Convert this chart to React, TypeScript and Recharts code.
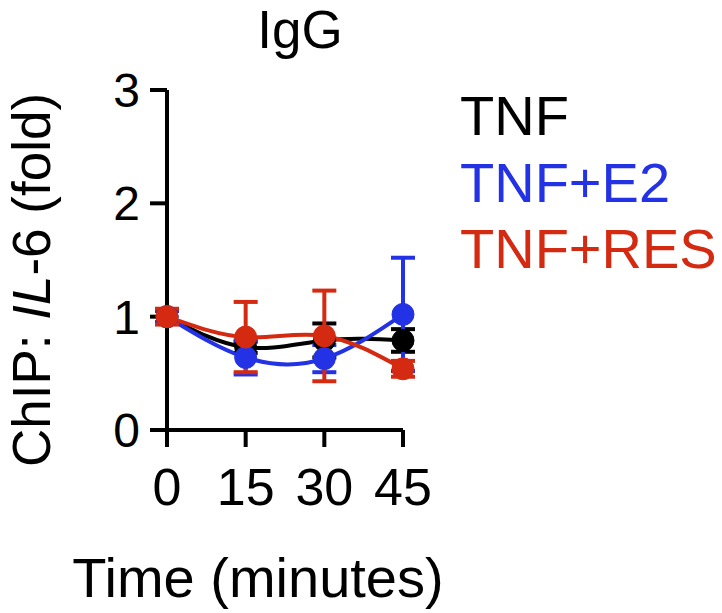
import React from 'react';
import { LineChart, Line, XAxis, YAxis, ErrorBar } from 'recharts';

// ChIP IgG control, fold change vs time
const times = [0, 15, 30, 45];
const tnfMean = [1.0, 0.73, 0.79, 0.79];
const tnfSem = [0.05, 0.05, 0.15, 0.1];
const e2Mean = [1.0, 0.64, 0.63, 1.02];
const e2Sem = [0.05, 0.15, 0.12, 0.5];
const resMean = [1.0, 0.82, 0.83, 0.54];
const resSem = [0.07, 0.31, 0.4, 0.07];
const yTicks = [0, 1, 2, 3];

const seriesNames = ['TNF', 'TNF+E2', 'TNF+RES'];
const colors = ['#000000', '#2332e4', '#d42a12'];

const data = times.map((t, i) => ({
  time: t,
  tnf: tnfMean[i],
  tnfErr: tnfSem[i],
  e2: e2Mean[i],
  e2Err: e2Sem[i],
  res: resMean[i],
  resErr: resSem[i],
}));

const FONT = '"Liberation Sans", Arial, Helvetica, sans-serif';

const YLabel = ({ viewBox }: any) => {
  const cx = 50;
  const cy = viewBox.y + viewBox.height / 2 + 20;
  return (
    <text
      x={cx}
      y={cy}
      transform={`rotate(-90 ${cx} ${cy})`}
      textAnchor="middle"
      fontFamily={FONT}
      fontSize={53}
      fill="#000"
    >
      ChIP:{' '}
      <tspan fontStyle="italic">IL</tspan>-6 (fold)
    </text>
  );
};

const XLabel = ({ viewBox }: any) => (
  <text
    x={viewBox.x + viewBox.width / 2 - 27}
    y={viewBox.y + 167}
    textAnchor="middle"
    fontFamily={FONT}
    fontSize={56}
    fill="#000"
  >
    Time (minutes)
  </text>
);

export default function App() {
  const keys = ['tnf', 'e2', 'res'];
  return (
    <div style={{ position: 'absolute', left: 0, top: 0, width: 722, height: 613, background: '#fff' }}>
      <LineChart
        width={722}
        height={613}
        data={data}
        margin={{ top: 90, right: 319, bottom: 123, left: 107 }}
      >
        <XAxis
          dataKey="time"
          type="number"
          domain={[0, 45]}
          ticks={times}
          height={60}
          tickSize={17}
          tickMargin={21}
          axisLine={{ stroke: '#000', strokeWidth: 4 }}
          tickLine={{ stroke: '#000', strokeWidth: 4 }}
          tick={{ fill: '#000', fontSize: 52, fontFamily: FONT }}
          label={{ content: XLabel }}
        />
        <YAxis
          type="number"
          domain={[0, 3]}
          ticks={yTicks}
          width={60}
          tickSize={17}
          tickMargin={10}
          axisLine={{ stroke: '#000', strokeWidth: 4 }}
          tickLine={{ stroke: '#000', strokeWidth: 4 }}
          tick={{ fill: '#000', fontSize: 48, fontFamily: FONT }}
          label={{ content: YLabel }}
        />
        {keys.map((k, i) => (
          <Line
            key={k}
            dataKey={k}
            name={seriesNames[i]}
            type="natural"
            stroke={colors[i]}
            strokeWidth={4}
            dot={{ r: 11, fill: colors[i], stroke: colors[i], strokeWidth: 1 }}
            isAnimationActive={false}
          >
            <ErrorBar dataKey={`${k}Err`} width={12} strokeWidth={4} stroke={colors[i]} direction="y" />
          </Line>
        ))}
      </LineChart>
      <svg
        width={722}
        height={613}
        style={{ position: 'absolute', left: 0, top: 0, pointerEvents: 'none' }}
      >
        <text x={300} y={48} textAnchor="middle" fontFamily={FONT} fontSize={53} fill="#000">
          IgG
        </text>
        {seriesNames.map((n, i) => (
          <text key={n} x={460} y={135 + i * 66.5} fontFamily={FONT} fontSize={56} fill={colors[i]}>
            {n}
          </text>
        ))}
      </svg>
    </div>
  );
}
